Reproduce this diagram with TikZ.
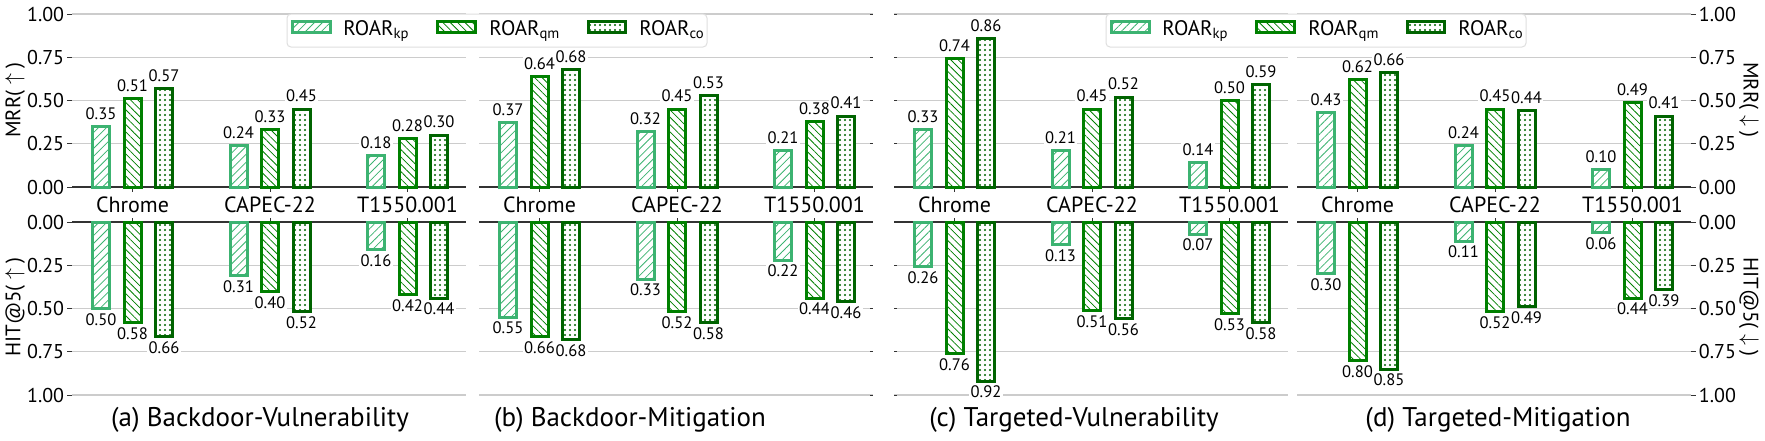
\documentclass[tikz,border=0pt]{standalone}
\usepackage{fontspec}
\setmainfont{PT Sans}
\usetikzlibrary{patterns.meta}
\definecolor{kpc}{HTML}{3CB371}
\definecolor{qmc}{HTML}{008000}
\definecolor{coc}{HTML}{006400}
\definecolor{gridc}{HTML}{CCCCCC}
\definecolor{axc}{HTML}{333333}
\tikzset{
 gridline/.style={draw=gridc, line width=0.6pt},
 axisline/.style={draw=axc, line width=0.6pt},
 tickline/.style={draw=axc, line width=0.5pt},
 barbase/.style={line width=1.5pt, preaction={fill=white}},
 kpbar/.style={barbase, draw=kpc, pattern={Lines[angle=45,distance=2.8pt,line width=0.4pt]}, pattern color=kpc},
 qmbar/.style={barbase, draw=qmc, pattern={Lines[angle=-45,distance=2.6pt,line width=0.4pt]}, pattern color=qmc},
 cobar/.style={barbase, draw=coc, pattern={Dots[distance=2.5pt,radius=0.55pt]}, pattern color=coc},
 vlab/.style={fill=white, inner sep=0.8pt, font=\fontsize{8.3}{10}\selectfont},
 ticklab/.style={font=\fontsize{10}{12}\selectfont, inner sep=0pt},
 catlab/.style={font=\fontsize{11}{13}\selectfont, inner sep=0pt},
 caplab/.style={font=\fontsize{13.5}{16}\selectfont, inner sep=0pt, anchor=base},
 leglab/.style={font=\fontsize{10.5}{12}\selectfont, inner sep=0pt, anchor=base west},
 legbox/.style={draw=gray!25, fill=white, rounded corners=2pt, line width=0.5pt},
 ylab/.style={font=\fontsize{10.5}{12}\selectfont, inner sep=0pt},
}
\newcommand\topbar[3]{%
  \draw[#3] ({#1-8.5},187) rectangle ({#1+8.5},{187-173*#2});
  \node[vlab,anchor=south] at (#1,{182-173*#2}) {#2};
}
\newcommand\botbar[3]{%
  \draw[#3] ({#1-8.5},222) rectangle ({#1+8.5},{222+173*#2});
  \node[vlab,anchor=north] at (#1,{225+173*#2}) {#2};
}
\newcommand\drawpanel[3]{%
 \begin{scope}[shift={(#1,0)}]
  \foreach \yy in {14,57.25,100.5,143.75,265.25,308.5,351.75,395}
    \draw[gridline] (0,\yy) -- (394,\yy);
  \draw[axisline] (0,187) -- (394,187);
  \draw[axisline] (0,222) -- (394,222);
  \foreach \gx/\cat in {60.5/Chrome,198/CAPEC-22,335.5/T1550.001} {
    \draw[tickline] (\gx,187) -- (\gx,191.5);
    \draw[tickline] (\gx,222) -- (\gx,217.5);
    \node[catlab] at (\gx,205) {\cat};
  }
  \foreach \gx/\a/\b/\c in {#2} {
    \topbar{\gx-31.5}{\a}{kpbar}
    \topbar{\gx}{\b}{qmbar}
    \topbar{\gx+31.5}{\c}{cobar}
  }
  \foreach \gx/\a/\b/\c in {#3} {
    \botbar{\gx-31.5}{\a}{kpbar}
    \botbar{\gx}{\b}{qmbar}
    \botbar{\gx+31.5}{\c}{cobar}
  }
 \end{scope}
}
\newcommand\drawlegend[2]{%
 \begin{scope}[shift={(#1,0)}]
  \draw[legbox] (0,14) rectangle (420,47);
  \draw[kpbar] (5,21) rectangle (43,32);
  \node[leglab] (#2kp) at (56,35) {ROAR\textsubscript{kp}};
  \draw[qmbar] (150,21) rectangle (188,32);
  \node[leglab] (#2qm) at (202,35) {ROAR\textsubscript{qm}};
  \draw[cobar] (301,21) rectangle (338,32);
  \node[leglab] (#2co) at (352,35) {ROAR\textsubscript{co}};
 \end{scope}
}
\begin{document}
\begin{tikzpicture}[x=0.5pt,y=-0.5pt]
\useasboundingbox (0,0) rectangle (1765,440);
\fill[white] (0,0) rectangle (1765,440);
% panels
\drawpanel{72}{60.5/0.35/0.51/0.57, 198/0.24/0.33/0.45, 335.5/0.18/0.28/0.30}{60.5/0.50/0.58/0.66, 198/0.31/0.40/0.52, 335.5/0.16/0.42/0.44}
\drawpanel{479}{60.5/0.37/0.64/0.68, 198/0.32/0.45/0.53, 335.5/0.21/0.38/0.41}{60.5/0.55/0.66/0.68, 198/0.33/0.52/0.58, 335.5/0.22/0.44/0.46}
\drawpanel{894}{60.5/0.33/0.74/0.86, 198/0.21/0.45/0.52, 335.5/0.14/0.50/0.59}{60.5/0.26/0.76/0.92, 198/0.13/0.51/0.56, 335.5/0.07/0.53/0.58}
\drawpanel{1297}{60.5/0.43/0.62/0.66, 198/0.24/0.45/0.44, 335.5/0.10/0.49/0.41}{60.5/0.30/0.80/0.85, 198/0.11/0.52/0.49, 335.5/0.06/0.44/0.39}
% inner ticks between panels
\foreach \yy in {14,57.25,100.5,143.75,265.25,308.5,351.75,395} {
  \draw[tickline] (870,\yy) -- (873,\yy);
  \draw[tickline] (894,\yy) -- (897,\yy);
}
% y axes
\foreach \v/\yy [count=\i] in {1.00/14,0.75/57.25,0.50/100.5,0.25/143.75,0.00/187,0.00/222,0.25/265.25,0.50/308.5,0.75/351.75,1.00/395} {
  \draw[tickline] (67,\yy) -- (72,\yy);
  \node[ticklab,anchor=east] (ltl\i) at (64.5,\yy) {\v};
  \draw[tickline] (1691,\yy) -- (1696,\yy);
  \node[ticklab,anchor=west] (rtl\i) at (1698.5,\yy) {\v};
}
\node[ylab,rotate=90] (ylmrr) at (15,100) {MRR(\ $\uparrow$\ )};
\node[ylab,rotate=90] (ylhit) at (15,307) {HIT@5(\ $\uparrow$\ )};
\node[ylab,rotate=-90] (yrmrr) at (1749,100) {MRR(\ $\downarrow$\ )};
\node[ylab,rotate=-90] (yrhit) at (1749,307) {HIT@5(\ $\downarrow$\ )};
% legends
\drawlegend{287}{L}
\drawlegend{1106}{R}
% captions
\node[caplab] (capa) at (260,426) {(a) Backdoor-Vulnerability};
\node[caplab] (capb) at (630,426) {(b) Backdoor-Mitigation};
\node[caplab] (capc) at (1074,426) {(c) Targeted-Vulnerability};
\node[caplab] (capd) at (1498,426) {(d) Targeted-Mitigation};
\end{tikzpicture}
\end{document}
